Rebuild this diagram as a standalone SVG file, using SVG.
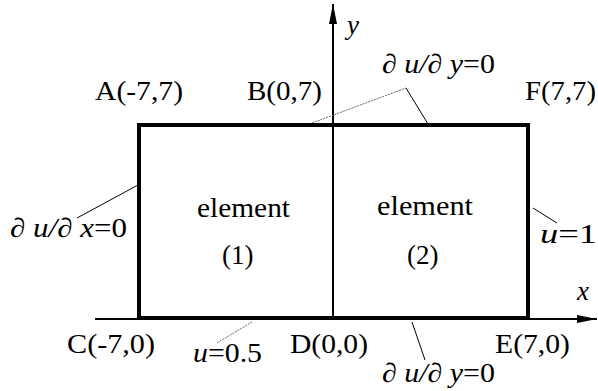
<svg xmlns="http://www.w3.org/2000/svg" width="598" height="391" viewBox="0 0 598 391">
<style>
.t{font-family:'Liberation Serif','Times New Roman',serif;font-size:27px;fill:#000}
.it{font-style:italic}
.up{font-style:normal}
.thin{stroke:#000;stroke-width:1;fill:none}
.dot{stroke:#666;stroke-width:1;fill:none;stroke-dasharray:2 1}
</style>
<defs>
<marker id="ah" markerWidth="22" markerHeight="8" refX="20" refY="4" orient="auto" markerUnits="userSpaceOnUse">
<path d="M0,0 L20,4 L0,8 Z" fill="#000"/>
</marker>
</defs>
<rect width="598" height="391" fill="#fff"/>
<g id="connectors">
<line id="x-axis" x1="95" y1="319" x2="597" y2="319" stroke="#000" stroke-width="2" marker-end="url(#ah)"/>
<line id="y-axis" x1="333" y1="318" x2="333" y2="4" stroke="#000" stroke-width="2" marker-end="url(#ah)"/>
<polyline class="dot" points="312,123 406,88"/>
<polyline class="thin" points="406,88 428,124"/>
<line class="thin" x1="77" y1="218" x2="138" y2="185"/>
<line class="thin" x1="533" y1="208" x2="557" y2="223"/>
<line class="dot" x1="217" y1="343" x2="252" y2="322"/>
<line class="thin" x1="412" y1="322" x2="425" y2="360"/>
</g>
<g id="domain">
<rect x="139" y="125" width="389" height="193" fill="none" stroke="#000" stroke-width="4"/>
</g>
<g id="element1">
<text class="t" x="197" y="217" textLength="93" lengthAdjust="spacingAndGlyphs">element</text>
<text class="t" x="222" y="264">(1)</text>
</g>
<g id="element2">
<text class="t" x="377" y="215" textLength="96" lengthAdjust="spacingAndGlyphs">element</text>
<text class="t" x="407" y="264">(2)</text>
</g>
<g id="labels">
<text class="t" x="95" y="100" textLength="88" lengthAdjust="spacingAndGlyphs">A(-7,7)</text>
<text class="t" x="247" y="100" textLength="75" lengthAdjust="spacingAndGlyphs">B(0,7)</text>
<text class="t" x="525" y="100" textLength="71" lengthAdjust="spacingAndGlyphs">F(7,7)</text>
<text class="t" x="67" y="353" textLength="88" lengthAdjust="spacingAndGlyphs">C(-7,0)</text>
<text class="t" x="290" y="353" textLength="78" lengthAdjust="spacingAndGlyphs">D(0,0)</text>
<text class="t" x="495" y="353" textLength="75" lengthAdjust="spacingAndGlyphs">E(7,0)</text>
<text class="t it" x="347" y="34">y</text>
<text class="t it" x="577" y="300" font-size="23">x</text>
<text class="t it" x="382" y="73" textLength="113" lengthAdjust="spacingAndGlyphs">∂ u/∂ y<tspan class="up">=0</tspan></text>
<text class="t it" x="10" y="237" textLength="117" lengthAdjust="spacingAndGlyphs">∂ u/∂ x<tspan class="up">=0</tspan></text>
<text class="t it" x="540" y="243" textLength="57" lengthAdjust="spacingAndGlyphs">u<tspan class="up">=1</tspan></text>
<text class="t it" x="193" y="362" textLength="69" lengthAdjust="spacingAndGlyphs">u<tspan class="up">=0.5</tspan></text>
<text class="t it" x="382" y="382" textLength="113" lengthAdjust="spacingAndGlyphs">∂ u/∂ y<tspan class="up">=0</tspan></text>
</g>
</svg>
